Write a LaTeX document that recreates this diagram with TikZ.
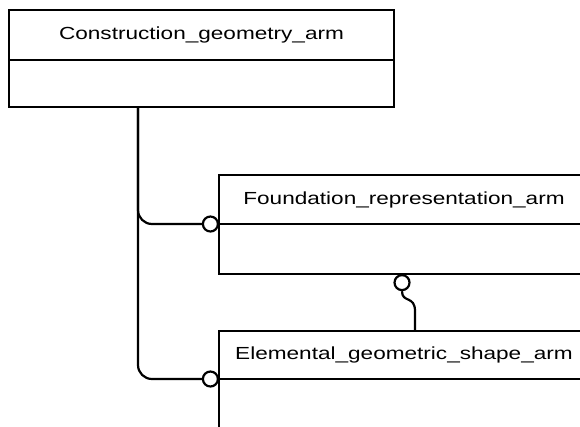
\documentclass[tikz,border=0pt]{standalone}
\usepackage{fontspec}
\setmainfont{Liberation Sans}
\usetikzlibrary{positioning}

\newcommand{\wide}[1]{\scalebox{1.29}[1]{#1}}

\begin{document}
\begin{tikzpicture}
		[x=1pt, y=-1pt, line width=2.2pt,
		hdr/.style={draw, rectangle, anchor=north west, inner sep=0pt, outer sep=0pt, font=\fontsize{17.5}{20}\selectfont},
		bdy/.style={draw, rectangle, anchor=north west, inner sep=0pt, outer sep=0pt},
		ring/.style={draw, circle, fill=white, minimum size=15pt, inner sep=0pt},
		conn/.style={rounded corners=14pt}]

		\useasboundingbox (0,0) rectangle (580,426);
		\clip (0,0) rectangle (580,426);

		% entities
		\node[hdr, minimum width=385pt, minimum height=50pt] (cga) at (9,10) {\wide{Construction\_geometry\_arm}};
		\node[bdy, minimum width=385pt, minimum height=47pt] (cgab) at (cga.south west) {};

		\node[hdr, minimum width=370pt, minimum height=49pt] (fra) at (219,175) {\wide{Foundation\_representation\_arm}};
		\node[bdy, minimum width=370pt, minimum height=50pt] (frab) at (fra.south west) {};

		\node[hdr, minimum width=370pt, minimum height=48pt] (ega) at (219,331) {\wide{Elemental\_geometric\_shape\_arm}};
		\node[bdy, minimum width=370pt, minimum height=60pt] (egab) at (ega.south west) {};

		% rings
		\node[ring, anchor=east] (r1) at (fra.south west) {};
		\node[ring, anchor=east] (r2) at (ega.south west) {};
		\node[ring, anchor=north] (r3) at ([xshift=183pt]frab.south west) {};

		% connectors
		\coordinate (trunk) at ([xshift=129pt]cgab.south west);
		\coordinate (drop) at ([xshift=196pt]ega.north west);
		\path (drop |- r3.south) coordinate (dr3);

		\draw[conn] (trunk) |- (r1.west);
		\draw[conn] (trunk) |- (r2.west);
		\draw (r3.south) .. controls ([yshift=-12pt]r3.south) and ([yshift=-4pt]dr3) .. ([yshift=-20pt]dr3) -- (drop);

\end{tikzpicture}
\end{document}
